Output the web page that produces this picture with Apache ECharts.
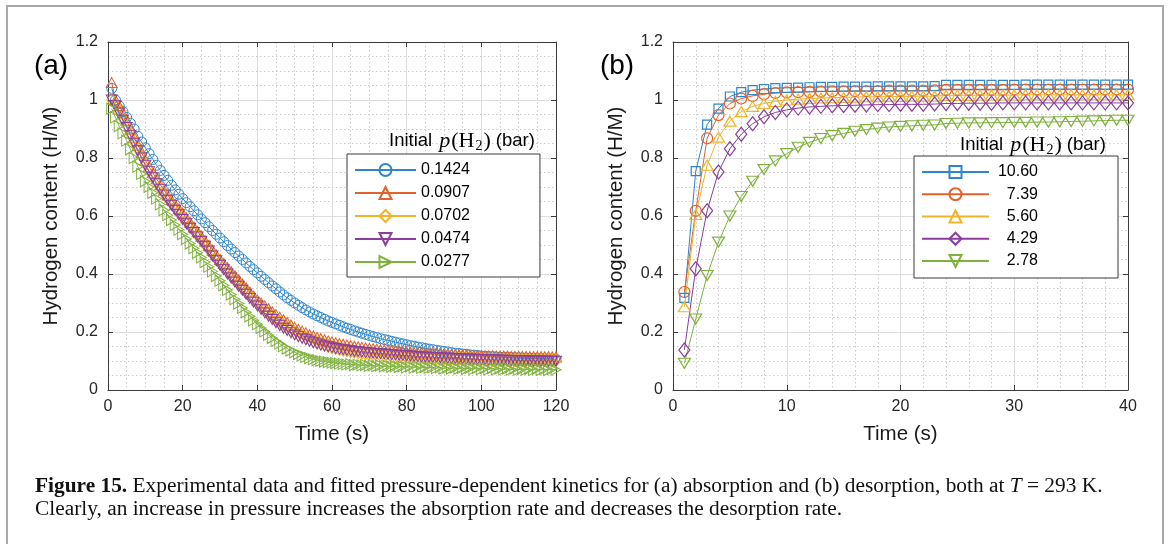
<!DOCTYPE html>
<html>
<head>
<meta charset="utf-8">
<script src="https://cdn.jsdelivr.net/npm/echarts@6.0.0/dist/echarts.min.js"></script>
<style>
html,body{margin:0;padding:0;background:#fff;}
#chart{width:1170px;height:544px;}
</style>
</head>
<body>
<div id="chart"></div>
<script>
// ---------- Panel (a): absorption, time in s ----------
const timeA = [1,2,3,4,5,6,7,8,9,10,11,12,13,14,15,16,17,18,19,20,
21,22,23,24,25,26,27,28,29,30,31,32,33,34,35,36,37,38,39,40,
41,42,43,44,45,46,47,48,49,50,51,52,53,54,55,56,57,58,59,60,
61,62,63,64,65,66,67,68,69,70,71,72,73,74,75,76,77,78,79,80,
81,82,83,84,85,86,87,88,89,90,91,92,93,94,95,96,97,98,99,100,
101,102,103,104,105,106,107,108,109,110,111,112,113,114,115,116,117,118,119,120];

const a_0_1424 = [1.04,1.0,0.98,0.96,0.94,0.92,0.9,0.875,0.855,0.835,
0.815,0.795,0.775,0.757,0.74,0.723,0.706,0.69,0.675,0.66,
0.646,0.632,0.618,0.604,0.59,0.577,0.563,0.55,0.537,0.524,
0.511,0.498,0.486,0.474,0.462,0.45,0.438,0.426,0.415,0.404,
0.392,0.381,0.37,0.359,0.349,0.338,0.328,0.318,0.309,0.3,
0.292,0.284,0.276,0.269,0.262,0.256,0.25,0.244,0.238,0.233,
0.228,0.223,0.218,0.213,0.209,0.204,0.2,0.196,0.192,0.188,
0.184,0.181,0.177,0.174,0.171,0.168,0.165,0.162,0.159,0.156,
0.153,0.151,0.148,0.146,0.143,0.141,0.139,0.137,0.135,0.133,
0.131,0.129,0.127,0.126,0.124,0.123,0.121,0.12,0.119,0.117,
0.116,0.115,0.115,0.114,0.113,0.113,0.112,0.112,0.111,0.111,
0.11,0.11,0.109,0.109,0.108,0.108,0.107,0.107,0.106,0.106];

const a_0_0907 = [1.06,1.0,0.98,0.955,0.93,0.9,0.872,0.845,0.818,0.792,
0.77,0.749,0.728,0.708,0.689,0.672,0.656,0.64,0.625,0.61,
0.594,0.578,0.562,0.546,0.53,0.514,0.498,0.482,0.466,0.45,
0.436,0.422,0.408,0.394,0.38,0.366,0.352,0.338,0.324,0.31,
0.3,0.29,0.28,0.27,0.26,0.251,0.242,0.233,0.224,0.216,
0.209,0.203,0.197,0.191,0.186,0.181,0.177,0.173,0.169,0.166,
0.163,0.16,0.158,0.155,0.153,0.151,0.149,0.147,0.145,0.143,
0.142,0.141,0.139,0.138,0.137,0.136,0.135,0.133,0.132,0.131,
0.13,0.129,0.128,0.128,0.127,0.126,0.125,0.125,0.124,0.123,
0.123,0.122,0.122,0.121,0.121,0.12,0.12,0.119,0.119,0.119,
0.118,0.118,0.118,0.117,0.117,0.117,0.117,0.116,0.116,0.116,
0.116,0.116,0.115,0.115,0.115,0.115,0.115,0.115,0.114,0.114];

const a_0_0702 = [1.0,0.985,0.96,0.935,0.91,0.882,0.855,0.83,0.805,0.78,
0.758,0.737,0.716,0.697,0.678,0.661,0.644,0.628,0.612,0.597,
0.581,0.565,0.549,0.533,0.517,0.501,0.485,0.469,0.453,0.438,
0.423,0.408,0.394,0.38,0.366,0.352,0.338,0.325,0.312,0.299,
0.287,0.275,0.264,0.253,0.243,0.233,0.224,0.215,0.207,0.199,
0.192,0.186,0.18,0.174,0.169,0.164,0.16,0.156,0.152,0.148,
0.145,0.142,0.139,0.137,0.134,0.132,0.13,0.128,0.126,0.125,
0.123,0.122,0.12,0.119,0.118,0.117,0.116,0.115,0.114,0.113,
0.113,0.112,0.111,0.111,0.11,0.11,0.109,0.109,0.108,0.108,
0.108,0.107,0.107,0.107,0.106,0.106,0.106,0.106,0.105,0.105,
0.105,0.105,0.104,0.104,0.104,0.104,0.104,0.103,0.103,0.103,
0.103,0.103,0.103,0.102,0.102,0.102,0.102,0.102,0.102,0.102];

const a_0_0474 = [1.0,0.98,0.955,0.93,0.905,0.878,0.851,0.825,0.8,0.775,
0.753,0.732,0.711,0.691,0.672,0.654,0.637,0.62,0.604,0.588,
0.573,0.558,0.543,0.528,0.513,0.496,0.479,0.462,0.446,0.43,
0.415,0.4,0.386,0.372,0.358,0.344,0.33,0.316,0.303,0.29,
0.278,0.266,0.254,0.243,0.232,0.222,0.213,0.205,0.197,0.19,
0.184,0.178,0.173,0.168,0.163,0.159,0.155,0.152,0.149,0.146,
0.143,0.141,0.139,0.137,0.135,0.133,0.132,0.13,0.129,0.128,
0.127,0.126,0.125,0.124,0.123,0.122,0.121,0.12,0.119,0.118,
0.117,0.116,0.115,0.114,0.114,0.113,0.112,0.112,0.111,0.11,
0.11,0.109,0.109,0.108,0.108,0.107,0.107,0.106,0.106,0.105,
0.105,0.104,0.104,0.104,0.103,0.103,0.103,0.102,0.102,0.102,
0.101,0.101,0.101,0.1,0.1,0.1,0.1,0.099,0.099,0.099];

const a_0_0277 = [0.97,0.94,0.91,0.885,0.86,0.83,0.8,0.77,0.745,0.72,
0.7,0.68,0.66,0.64,0.62,0.603,0.586,0.569,0.553,0.537,
0.521,0.505,0.489,0.473,0.457,0.441,0.425,0.409,0.393,0.377,
0.361,0.345,0.329,0.313,0.298,0.283,0.268,0.254,0.24,0.227,
0.214,0.202,0.19,0.179,0.169,0.16,0.151,0.143,0.136,0.13,
0.124,0.119,0.114,0.11,0.106,0.103,0.1,0.098,0.096,0.094,
0.093,0.091,0.09,0.088,0.089,0.086,0.087,0.085,0.086,0.083,
0.085,0.082,0.084,0.081,0.083,0.08,0.082,0.079,0.081,0.078,
0.081,0.077,0.08,0.076,0.079,0.076,0.078,0.075,0.078,0.074,
0.077,0.074,0.077,0.073,0.076,0.073,0.076,0.072,0.076,0.072,
0.075,0.071,0.075,0.071,0.074,0.071,0.074,0.07,0.074,0.07,
0.073,0.07,0.073,0.069,0.073,0.069,0.072,0.069,0.072,0.07];

// ---------- Panel (b): desorption, time in s ----------
const timeB = [1,2,3,4,5,6,7,8,9,10,11,12,13,14,15,16,17,18,19,20,
21,22,23,24,25,26,27,28,29,30,31,32,33,34,35,36,37,38,39,40];

const b_10_60 = [0.318,0.755,0.915,0.97,1.012,1.027,1.034,1.038,1.041,1.042,
1.043,1.044,1.045,1.045,1.046,1.046,1.046,1.047,1.047,1.047,
1.047,1.047,1.048,1.052,1.052,1.052,1.052,1.052,1.052,1.052,
1.053,1.053,1.053,1.053,1.053,1.053,1.053,1.053,1.053,1.053];

const b_7_39 = [0.338,0.618,0.868,0.948,0.988,1.005,1.014,1.02,1.024,1.026,
1.027,1.028,1.029,1.03,1.03,1.031,1.031,1.031,1.032,1.032,
1.032,1.032,1.033,1.035,1.035,1.035,1.035,1.035,1.035,1.036,
1.036,1.036,1.036,1.036,1.036,1.036,1.036,1.036,1.036,1.036];

const b_5_60 = [0.287,0.605,0.775,0.872,0.927,0.96,0.978,0.988,0.995,1.0,
1.003,1.005,1.007,1.008,1.009,1.01,1.011,1.011,1.012,1.012,
1.013,1.013,1.013,1.016,1.016,1.016,1.017,1.017,1.017,1.017,
1.018,1.018,1.018,1.018,1.018,1.018,1.018,1.018,1.018,1.018];

const b_4_29 = [0.138,0.418,0.618,0.752,0.832,0.882,0.918,0.942,0.957,0.966,
0.972,0.976,0.978,0.98,0.981,0.982,0.983,0.984,0.984,0.985,
0.985,0.985,0.986,0.988,0.988,0.989,0.989,0.989,0.99,0.99,
0.99,0.99,0.99,0.99,0.99,0.99,0.99,0.99,0.99,0.99];

const b_2_78 = [0.092,0.245,0.395,0.51,0.6,0.667,0.72,0.76,0.79,0.815,
0.837,0.854,0.867,0.877,0.885,0.892,0.898,0.903,0.907,0.909,
0.911,0.913,0.914,0.919,0.92,0.921,0.921,0.922,0.922,0.923,
0.923,0.924,0.924,0.925,0.926,0.927,0.928,0.929,0.93,0.93];

const namesA = ['0.1424','0.0907','0.0702','0.0474','0.0277'];
const namesB = ['10.60','7.39','5.60','4.29','2.78'];
const xTicksA = [0,20,40,60,80,100,120];
const xTicksB = [0,10,20,30,40];
const yTicks = [0,0.2,0.4,0.6,0.8,1,1.2];

// ---------- styling ----------
const COLORS = ['#2e86cc','#e0622c','#efb42a','#8a3d9c','#7fb23c'];
const SANS = 'Liberation Sans, Arial, sans-serif';
const SERIF = 'Liberation Serif, Times New Roman, serif';
const AX = '#3a3a3a';

function pairs(xs, ys){ return xs.map((x,i)=>[x, ys[i]]); }

function mkSeries(name, xs, ys, color, symbol, rot, size, idx, bw){
  return {
    type:'line', name:name, xAxisIndex:idx, yAxisIndex:idx,
    data:pairs(xs, ys), symbol:symbol, symbolRotate:rot, symbolSize:size,
    showSymbol:true, showAllSymbol:true, clip:false,
    lineStyle:{color:color, width:1},
    itemStyle:{color:'rgba(255,255,255,0)', borderColor:color, borderWidth:bw},
    emphasis:{disabled:true}, silent:true, animation:false
  };
}

function xAxisCfg(grid, max, interval, minorN, pos){
  const main = pos === 'bottom';
  return {
    gridIndex:grid, type:'value', position:pos, min:0, max:max, interval:interval,
    name: main ? 'Time (s)' : '', nameLocation:'middle', nameGap:34,
    nameTextStyle:{fontSize:20.5, color:'#1a1a1a', fontFamily:SANS},
    axisLine:{show:true, onZero:false, lineStyle:{color:AX, width:1}},
    axisTick:{show:true, inside:true, length:5, lineStyle:{color:AX}},
    axisLabel:{show:main, fontSize:16, color:'#262626', margin:9, fontFamily:SANS},
    splitLine:{show:main, lineStyle:{color:'#dedede', width:1}},
    minorTick:{show:false, splitNumber:minorN},
    minorSplitLine:{show:main, lineStyle:{color:'#cacaca', width:1, type:[1.5,2.5]}}
  };
}
function yAxisCfg(grid, pos){
  const main = pos === 'left';
  return {
    gridIndex:grid, type:'value', position:pos, min:0, max:1.2, interval:0.2,
    name: main ? 'Hydrogen content (H/M)' : '', nameLocation:'middle', nameGap:46,
    nameTextStyle:{fontSize:20.5, color:'#1a1a1a', fontFamily:SANS},
    axisLine:{show:true, onZero:false, lineStyle:{color:AX, width:1}},
    axisTick:{show:true, inside:true, length:5, lineStyle:{color:AX}},
    axisLabel:{show:main, fontSize:16, color:'#262626', margin:10, fontFamily:SANS},
    splitLine:{show:main, lineStyle:{color:'#dedede', width:1}},
    minorTick:{show:false, splitNumber:4},
    minorSplitLine:{show:main, lineStyle:{color:'#cacaca', width:1, type:[1.5,2.5]}}
  };
}

const seriesA = [
  mkSeries(namesA[0], timeA, a_0_1424, COLORS[0], 'circle', 0, 10, 0, 1),
  mkSeries(namesA[1], timeA, a_0_0907, COLORS[1], 'triangle', 0, [11,10], 0, 1),
  mkSeries(namesA[2], timeA, a_0_0702, COLORS[2], 'diamond', 0, [10,13], 0, 1),
  mkSeries(namesA[3], timeA, a_0_0474, COLORS[3], 'triangle', 180, [11,10], 0, 1),
  mkSeries(namesA[4], timeA, a_0_0277, COLORS[4], 'triangle', -90, [11,10], 0, 1)
];
const seriesB = [
  mkSeries(namesB[0], timeB, b_10_60, COLORS[0], 'rect', 0, 9, 2, 1.2),
  mkSeries(namesB[1], timeB, b_7_39, COLORS[1], 'circle', 0, 11, 2, 1.2),
  mkSeries(namesB[2], timeB, b_5_60, COLORS[2], 'triangle', 0, [12,10], 2, 1.2),
  mkSeries(namesB[3], timeB, b_4_29, COLORS[3], 'diamond', 0, [11,14], 2, 1.2),
  mkSeries(namesB[4], timeB, b_2_78, COLORS[4], 'triangle', 180, [12,10], 2, 1.2)
];

function titleText(x, y){
  return {
    type:'text', silent:true, z:100,
    style:{
      x:x, y:y, verticalAlign:'middle', align:'left',
      text:'{s|Initial}{i|p}{r|(H}{sub|2}{r|)}{s| (bar)}',
      rich:{
        s:{fontSize:18.5, fontFamily:SANS, fill:'#000'},
        i:{fontSize:22, fontFamily:SERIF, fontStyle:'italic', fill:'#000', padding:[0,1,0,7]},
        r:{fontSize:22, fontFamily:SERIF, fill:'#000'},
        sub:{fontSize:14, fontFamily:SERIF, fill:'#000', padding:[10,1,0,1]}
      }
    }
  };
}

function captionLine(y, text){
  return {type:'text', silent:true, x:35, y:y, scaleX:1.068, scaleY:1,
    style:{x:0, y:0, verticalAlign:'middle', align:'left',
      fontSize:20, fontFamily:SERIF, fill:'#111', text:text,
      rich:{b:{fontWeight:'bold', fontSize:20, fontFamily:SERIF, fill:'#111'},
            i:{fontStyle:'italic', fontSize:20, fontFamily:SERIF, fill:'#111'}}}};
}

const chart = echarts.init(document.getElementById('chart'), null, {renderer:'canvas'});
chart.setOption({
  backgroundColor:'#ffffff',
  animation:false,
  grid:[
    {left:108, top:42, width:448, height:348, show:false},
    {left:673, top:42, width:455, height:348, show:false}
  ],
  xAxis:[
    xAxisCfg(0, 120, 20, 4, 'bottom'),
    xAxisCfg(0, 120, 20, 4, 'top'),
    xAxisCfg(1, 40, 10, 5, 'bottom'),
    xAxisCfg(1, 40, 10, 5, 'top')
  ],
  yAxis:[
    yAxisCfg(0, 'left'),
    yAxisCfg(0, 'right'),
    yAxisCfg(1, 'left'),
    yAxisCfg(1, 'right')
  ],
  legend:[
    {
      data:namesA, orient:'vertical', left:347, top:154,
      itemWidth:61, itemHeight:15, itemGap:7, padding:[8,70,7,7],
      borderColor:AX, borderWidth:1, backgroundColor:'#fff', selectedMode:false,
      textStyle:{fontSize:16, color:'#000', fontFamily:SANS}
    },
    {
      data:namesB, orient:'vertical', left:914, top:156,
      itemWidth:67, itemHeight:15, itemGap:6.25, padding:[8,80,9,7],
      borderColor:AX, borderWidth:1, backgroundColor:'#fff', selectedMode:false,
      formatter:function(n){ return '{n|' + n + '}'; },
      textStyle:{fontSize:16, color:'#000', fontFamily:SANS,
        rich:{n:{width:44, align:'right', fontSize:16, fontFamily:SANS, color:'#000'}}}
    }
  ],
  graphic:[
    {type:'rect', silent:true, z:-10, shape:{x:7, y:6, width:1156, height:580},
     style:{fill:'none', stroke:'#a8a8a8', lineWidth:2}},
    {type:'text', silent:true, style:{x:51, y:66, text:'(a)', fontSize:28, fontFamily:SANS, fill:'#000', align:'center', verticalAlign:'middle'}},
    {type:'text', silent:true, style:{x:617, y:66, text:'(b)', fontSize:28, fontFamily:SANS, fill:'#000', align:'center', verticalAlign:'middle'}},
    titleText(389, 141),
    titleText(960, 145),
    captionLine(487, '{b|Figure 15.} Experimental data and fitted pressure-dependent kinetics for (a) absorption and (b) desorption, both at {i|T} = 293 K.'),
    captionLine(510, 'Clearly, an increase in pressure increases the absorption rate and decreases the desorption rate.')
  ],
  series: seriesA.concat(seriesB)
});
</script>
</body>
</html>
